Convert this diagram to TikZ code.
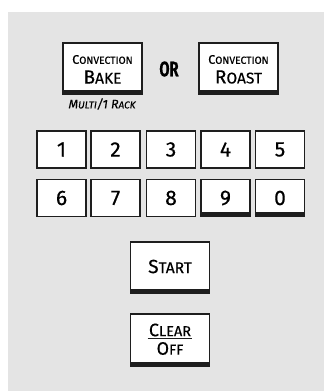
\documentclass[tikz,border=0pt]{standalone}
\usepackage{fontspec}
\setmainfont{Fira Sans}[FakeBold=0.4]
\usepackage{graphicx}
\definecolor{bggray}{HTML}{E4E4E4}
\definecolor{keyline}{HTML}{1E1E1E}
\newcommand{\sck}[2]{{\fontsize{#1}{#1}\selectfont #2}}
\begin{document}
\begin{tikzpicture}[x=1pt,y=-1pt,
  keybox/.style={draw=keyline, line width=1.6pt, fill=white, inner sep=0pt},
  bigkey/.style={keybox, minimum width=79pt, minimum height=51pt},
  numkey/.style={keybox, minimum width=49pt, minimum height=37pt, font=\fontsize{21}{21}\selectfont},
  lbl/.style={inner sep=0pt, anchor=center}]
\useasboundingbox (0,0) rectangle (324,391);
\fill[white] (0,0) rectangle (324,391);
\fill[bggray] (8,12) rectangle (324,391);
% big keys
\node[bigkey] (bake) at (102.5,68.5) {};
\node[bigkey] (roast) at (238.5,68.5) {};
\node[lbl] (baket1) at (102.5,59.5) {\sck{12.5}{C}\sck{10.3}{ONVECTION}};
\node[lbl] (baket2) at (102.5,77) {\sck{19}{B}\sck{15.5}{AKE}};
\node[lbl] (roastt1) at (238.5,59.5) {\sck{12.5}{C}\sck{10.3}{ONVECTION}};
\node[lbl] (roastt2) at (238.5,77) {\sck{19}{R}\sck{15.5}{OAST}};
\node[lbl] (or) at (169,69) {\scalebox{0.7}[1]{\fontsize{21}{21}\selectfont\bfseries OR}};
\node[lbl] (multi) at (102,104) {\itshape\sck{12.5}{M}\sck{10}{ULTI}\sck{12.5}{/1 R}\sck{10}{ACK}};
% number keys
\node[numkey] (k1) at (61.5,149.5) {1};
\node[numkey] (k2) at (115.5,149.5) {2};
\node[numkey] (k3) at (171,149.5) {3};
\node[numkey] (k4) at (225.5,149.5) {4};
\node[numkey] (k5) at (280,149.5) {5};
\node[numkey] (k6) at (61.5,198) {6};
\node[numkey] (k7) at (115.5,198) {7};
\node[numkey] (k8) at (171,198) {8};
\node[numkey] (k9) at (225.5,198) {9};
\node[numkey] (k0) at (280,198) {0};
% start / clear
\node[bigkey] (start) at (170,267.5) {};
\node[lbl] (startt) at (170,266.5) {\sck{19}{S}\sck{15.5}{TART}};
\node[bigkey, minimum height=52pt] (clear) at (170,340) {};
\node[lbl] (cleart) at (170,330) {\sck{18}{C}\sck{14.5}{LEAR}};
\node[lbl] (offt) at (170,348.5) {\sck{18}{O}\sck{14.5}{FF}};
\draw[keyline, line width=1.6pt] ([xshift=-1pt,yshift=-2pt]cleart.south west) -- ([xshift=1pt,yshift=-2pt]cleart.south east);
% bars
\foreach \k in {bake,roast,start,clear,k9,k0}{
  \fill[keyline] ([xshift=0.8pt,yshift=0.8pt]\k.south west) rectangle ([xshift=-0.8pt,yshift=5pt]\k.south east);
}
\end{tikzpicture}
\end{document}
